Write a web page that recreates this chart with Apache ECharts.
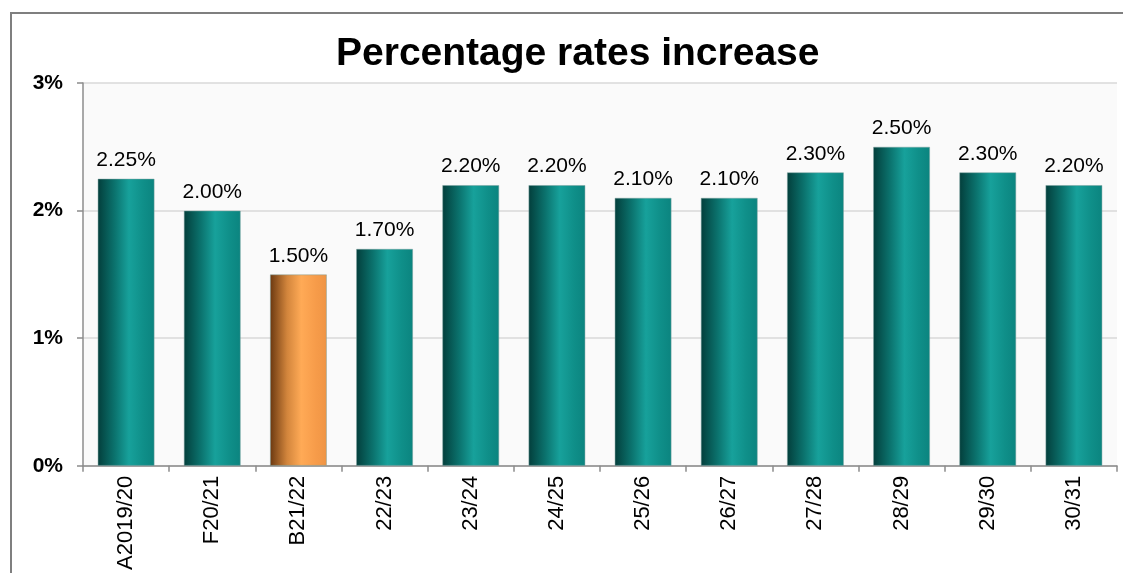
<!DOCTYPE html>
<html>
<head>
<meta charset="utf-8">
<script src="https://cdn.jsdelivr.net/npm/echarts@6/dist/echarts.min.js"></script>
<style>
html,body{margin:0;padding:0;background:#fff;}
#chart{width:1123px;height:573px;}
</style>
</head>
<body>
<div id="chart"></div>
<script>
var categories = ['A2019/20','F20/21','B21/22','22/23','23/24','24/25','25/26','26/27','27/28','28/29','29/30','30/31'];
var values = [2.25, 2.00, 1.50, 1.70, 2.20, 2.20, 2.10, 2.10, 2.30, 2.50, 2.30, 2.20];
var highlightCategory = 'B21/22';
var yTicks = [0, 1, 2, 3];

var teal = new echarts.graphic.LinearGradient(0, 0, 1, 0, [
  {offset: 0, color: '#033e3b'},
  {offset: 0.3, color: '#0b736e'},
  {offset: 0.55, color: '#17a19b'},
  {offset: 0.8, color: '#0f8f89'},
  {offset: 1, color: '#0b847f'}
]);
var orange = new echarts.graphic.LinearGradient(0, 0, 1, 0, [
  {offset: 0, color: '#6a3810'},
  {offset: 0.3, color: '#d2853c'},
  {offset: 0.55, color: '#ffaa56'},
  {offset: 0.8, color: '#f79c4a'},
  {offset: 1, color: '#ef9444'}
]);

var chart = echarts.init(document.getElementById('chart'), null, {renderer: 'canvas'});
chart.setOption({
  animation: false,
  backgroundColor: '#ffffff',
  title: {
    text: 'Percentage rates increase',
    left: 331,
    top: 30,
    textStyle: {fontFamily: 'Liberation Sans, Arial', fontSize: 39, fontWeight: 'bold', color: '#000'}
  },
  graphic: [{
    type: 'polyline',
    shape: {points: [[11, 580], [11, 13], [1130, 13]]},
    style: {stroke: '#7f7f7f', lineWidth: 2, fill: null},
    silent: true
  }],
  grid: {
    left: 83, right: 6, top: 83, bottom: 105,
    show: true, backgroundColor: '#fafafa', borderWidth: 0
  },
  xAxis: {
    type: 'category',
    data: categories,
    axisLine: {lineStyle: {color: '#8c8c8c', width: 1.5}},
    axisTick: {show: true, alignWithLabel: false, length: 6, lineStyle: {color: '#8c8c8c', width: 1.5}},
    axisLabel: {rotate: 90, margin: 10, fontFamily: 'Liberation Sans, Arial', fontSize: 22, color: '#000'}
  },
  yAxis: {
    type: 'value',
    min: yTicks[0], max: yTicks[yTicks.length - 1], interval: 1,
    axisLine: {show: true, lineStyle: {color: '#8c8c8c', width: 1.5}},
    axisTick: {show: true, length: 6, lineStyle: {color: '#8c8c8c', width: 1.5}},
    splitLine: {show: true, lineStyle: {color: '#d9d9d9', width: 1.5}},
    axisLabel: {formatter: '{value}%', margin: 20, fontFamily: 'Liberation Sans, Arial', fontSize: 21, fontWeight: 'bold', color: '#000'}
  },
  series: [{
    type: 'bar',
    data: values.map(function (v, i) {
      return {
        value: v,
        itemStyle: {color: categories[i] === highlightCategory ? orange : teal}
      };
    }),
    barCategoryGap: '34%',
    itemStyle: {borderColor: 'rgba(120,160,158,0.6)', borderWidth: 0.8},
    label: {
      show: true, position: 'top', distance: 8,
      formatter: function (p) { return p.value.toFixed(2) + '%'; },
      fontFamily: 'Liberation Sans, Arial', fontSize: 21, color: '#000'
    }
  }]
});
</script>
</body>
</html>
